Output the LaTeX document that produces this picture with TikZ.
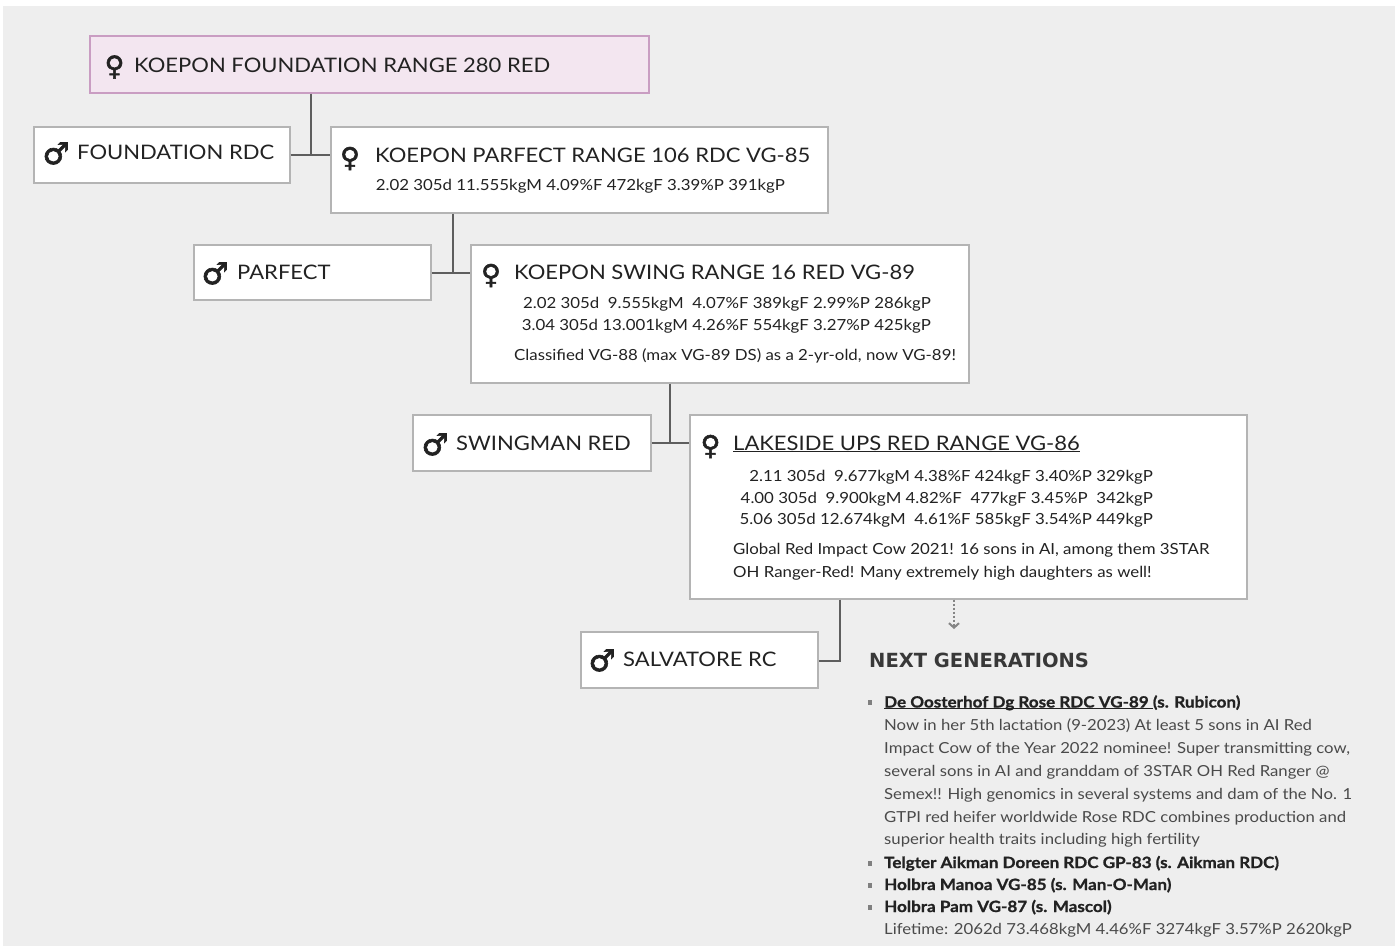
\documentclass[tikz,border=0pt]{standalone}
\usepackage{fontspec}
\setmainfont{Lato}[FakeStretch=1.1, BoldFeatures={FakeBold=1}]
\newfontfamily\symfont{DejaVu Sans}[FakeBold=2]
\newfontfamily\headfont{DejaVu Sans}
\usetikzlibrary{arrows.meta}

\definecolor{bg}{HTML}{EEEEEE}
\definecolor{boxline}{HTML}{B4B4B4}
\definecolor{rootfill}{HTML}{F3E6F0}
\definecolor{rootline}{HTML}{C99DC2}
\definecolor{linkcol}{HTML}{5E5E5E}
\definecolor{nextcol}{HTML}{858585}
\definecolor{ink}{HTML}{222222}
\definecolor{softink}{HTML}{4A4A4A}

\newcommand{\undertext}[1]{\setbox0=\hbox{#1}\rlap{\rule[-1.8pt]{\wd0}{1.3pt}}\box0}

\begin{document}
\begin{tikzpicture}[box/.style={rectangle, draw=boxline, line width=1.5pt, fill=white, anchor=north west, inner sep=0pt}, rootbox/.style={box, draw=rootline, fill=rootfill}, cowname/.style={anchor=base west, inner sep=0pt, text=ink, font=\fontsize{20}{24}\selectfont}, stats/.style={anchor=base east, inner sep=0pt, text=ink, font=\fontsize{15.3}{18}\selectfont}, remark/.style={anchor=base west, inner sep=0pt, text=ink, font=\fontsize{15.3}{18}\selectfont}, fem/.style={anchor=center, inner sep=0pt, text=ink, font=\symfont\fontsize{27}{28}\selectfont}, mal/.style={fem, font=\symfont\fontsize{30}{32}\selectfont}, link/.style={draw=linkcol, line width=1.8pt}, bullet/.style={rectangle, fill=gray, minimum width=4pt, minimum height=5pt, inner sep=0pt, anchor=north west}, item/.style={anchor=base west, inner sep=0pt, text=ink, font=\bfseries\fontsize{15.5}{18}\selectfont}, line/.style={anchor=base west, inner sep=0pt, text=softink, font=\fontsize{15.2}{18}\selectfont}]
  \useasboundingbox (0pt, 0pt) rectangle (1398pt, -946pt);
  \fill[bg] (3pt, -6pt) rectangle (1395pt, -946pt);

  \draw (89.0pt, -35.0pt)node[rootbox, minimum width=559pt, minimum height=57pt](d0){};
  \draw (33.0pt, -126.0pt)node[box, minimum width=256pt, minimum height=56pt](s1){};
  \draw (330.0pt, -126.0pt)node[box, minimum width=497pt, minimum height=86pt](d1){};
  \draw (193.0pt, -244.0pt)node[box, minimum width=237pt, minimum height=55pt](s2){};
  \draw (470.0pt, -244.0pt)node[box, minimum width=498pt, minimum height=138pt](d2){};
  \draw (412.0pt, -414.0pt)node[box, minimum width=238pt, minimum height=56pt](s3){};
  \draw (689.0pt, -414.0pt)node[box, minimum width=557pt, minimum height=184pt](d3){};
  \draw (580.0pt, -631.0pt)node[box, minimum width=237pt, minimum height=56pt](s4){};

  \draw (114.5pt, -67.0pt)node[fem](d0sym){♀};
  \draw (134.0pt, -72.0pt)node[cowname](d0name){KOEPON FOUNDATION RANGE 280 RED};
  \draw (56.0pt, -153.5pt)node[mal](s1sym){♂};
  \draw (77.0pt, -159.0pt)node[cowname](s1name){FOUNDATION RDC};
  \draw (350.0pt, -158.5pt)node[fem](d1sym){♀};
  \draw (375.0pt, -162.0pt)node[cowname](d1name){KOEPON PARFECT RANGE 106 RDC VG-85};
  \draw (785.0pt, -190.0pt)node[stats](d1lac1){2.02 305d 11.555kgM 4.09\%F 472kgF 3.39\%P 391kgP};

  \draw (215.0pt, -273.5pt)node[mal](s2sym){♂};
  \draw (237.0pt, -279.0pt)node[cowname](s2name){PARFECT};
  \draw (491.0pt, -275.5pt)node[fem](d2sym){♀};
  \draw (514.0pt, -279.0pt)node[cowname](d2name){KOEPON SWING RANGE 16 RED VG-89};
  \draw (931.0pt, -308.0pt)node[stats](d2lac1){2.02 305d\ \ 9.555kgM\ \ 4.07\%F 389kgF 2.99\%P 286kgP};
  \draw (931.0pt, -330.0pt)node[stats](d2lac2){3.04 305d 13.001kgM 4.26\%F 554kgF\ 3.27\%P 425kgP};
  \draw (514.0pt, -360.0pt)node[remark](d2note){Classified VG-88 (max VG-89 DS) as a 2-yr-old, now VG-89!};

  \draw (435.0pt, -444.5pt)node[mal](s3sym){♂};
  \draw (456.0pt, -450.0pt)node[cowname](s3name){SWINGMAN RED};
  \draw (710.5pt, -446.5pt)node[fem](d3sym){♀};
  \draw (733.0pt, -450.0pt)node[cowname](d3name){\undertext{LAKESIDE UPS RED RANGE VG-86}};
  \draw (1153.0pt, -481.0pt)node[stats](d3lac1){2.11 305d\ \ 9.677kgM 4.38\%F 424kgF 3.40\%P 329kgP};
  \draw (1153.0pt, -503.0pt)node[stats](d3lac2){4.00 305d\ \ 9.900kgM 4.82\%F\ \ 477kgF 3.45\%P\ \ 342kgP};
  \draw (1153.0pt, -524.0pt)node[stats](d3lac3){5.06 305d 12.674kgM\ \ 4.61\%F 585kgF 3.54\%P 449kgP};
  \draw (733.0pt, -554.0pt)node[remark](d3note1){Global Red Impact Cow 2021! 16 sons in AI, among them 3STAR};
  \draw (733.0pt, -577.0pt)node[remark](d3note2){OH Ranger-Red! Many extremely high daughters as well!};

  \draw (602.0pt, -660.5pt)node[mal](s4sym){♂};
  \draw (623.0pt, -666.0pt)node[cowname](s4name){SALVATORE RC};

  \draw (869.0pt, -667.0pt)node[anchor=base west, inner sep=0pt, text=ink!90, font=\headfont\bfseries\fontsize{19.5}{22}\selectfont](nexthead){NEXT GENERATIONS};
  \draw (868.0pt, -700.0pt)node[bullet](b1){};
  \draw (884.0pt, -707.5pt)node[item](n1){\undertext{De Oosterhof Dg Rose RDC VG-89\ }(s. Rubicon)};
  \draw (884.0pt, -730.0pt)node[line](n1l1){Now in her 5th lactation (9-2023) At least 5 sons in AI Red};
  \draw (884.0pt, -753.0pt)node[line](n1l2){Impact Cow of the Year 2022 nominee! Super transmitting cow,};
  \draw (884.0pt, -776.0pt)node[line](n1l3){several sons in AI and granddam of 3STAR OH Red Ranger @};
  \draw (884.0pt, -799.0pt)node[line](n1l4){Semex!! High genomics in several systems and dam of the No. 1};
  \draw (884.0pt, -822.0pt)node[line](n1l5){GTPI red heifer worldwide Rose RDC combines production and};
  \draw (884.0pt, -844.5pt)node[line](n1l6){superior health traits including high fertility};
  \draw (868.0pt, -860.5pt)node[bullet](b2){};
  \draw (884.0pt, -868.0pt)node[item](n2){Telgter Aikman Doreen RDC GP-83 (s. Aikman RDC)};
  \draw (868.0pt, -882.5pt)node[bullet](b3){};
  \draw (884.0pt, -890.0pt)node[item](n3){Holbra Manoa VG-85 (s. Man-O-Man)};
  \draw (868.0pt, -904.5pt)node[bullet](b4){};
  \draw (884.0pt, -912.0pt)node[item](n4){Holbra Pam VG-87 (s. Mascol)};
  \draw (884.0pt, -934.0pt)node[line](n4l1){Lifetime: 2062d 73.468kgM 4.46\%F 3274kgF 3.57\%P 2620kgP};

  \coordinate (j1) at (311pt, -155pt);
  \coordinate (j2) at (453pt, -273pt);
  \coordinate (j3) at (670pt, -443pt);
  \coordinate (j4) at (840pt, -661pt);
  \coordinate (nx) at (954pt, -629pt);
  \path[link] (d0.south -| j1) -- (j1);
  \path[link] (s1.east |- j1) -- (d1.west |- j1);
  \path[link] (d1.south -| j2) -- (j2);
  \path[link] (s2.east |- j2) -- (d2.west |- j2);
  \path[link] (d2.south -| j3) -- (j3);
  \path[link] (s3.east |- j3) -- (d3.west |- j3);
  \path[link] (d3.south -| j4) -- (j4) -- (s4.east |- j4);
  \draw[-{Straight Barb[length=4.5pt, width=10pt, line width=2pt]}, draw=nextcol, line width=2.4pt, dash pattern=on 2.5pt off 1.5pt] (d3.south -| nx) -- (nx);
\end{tikzpicture}
\end{document}
